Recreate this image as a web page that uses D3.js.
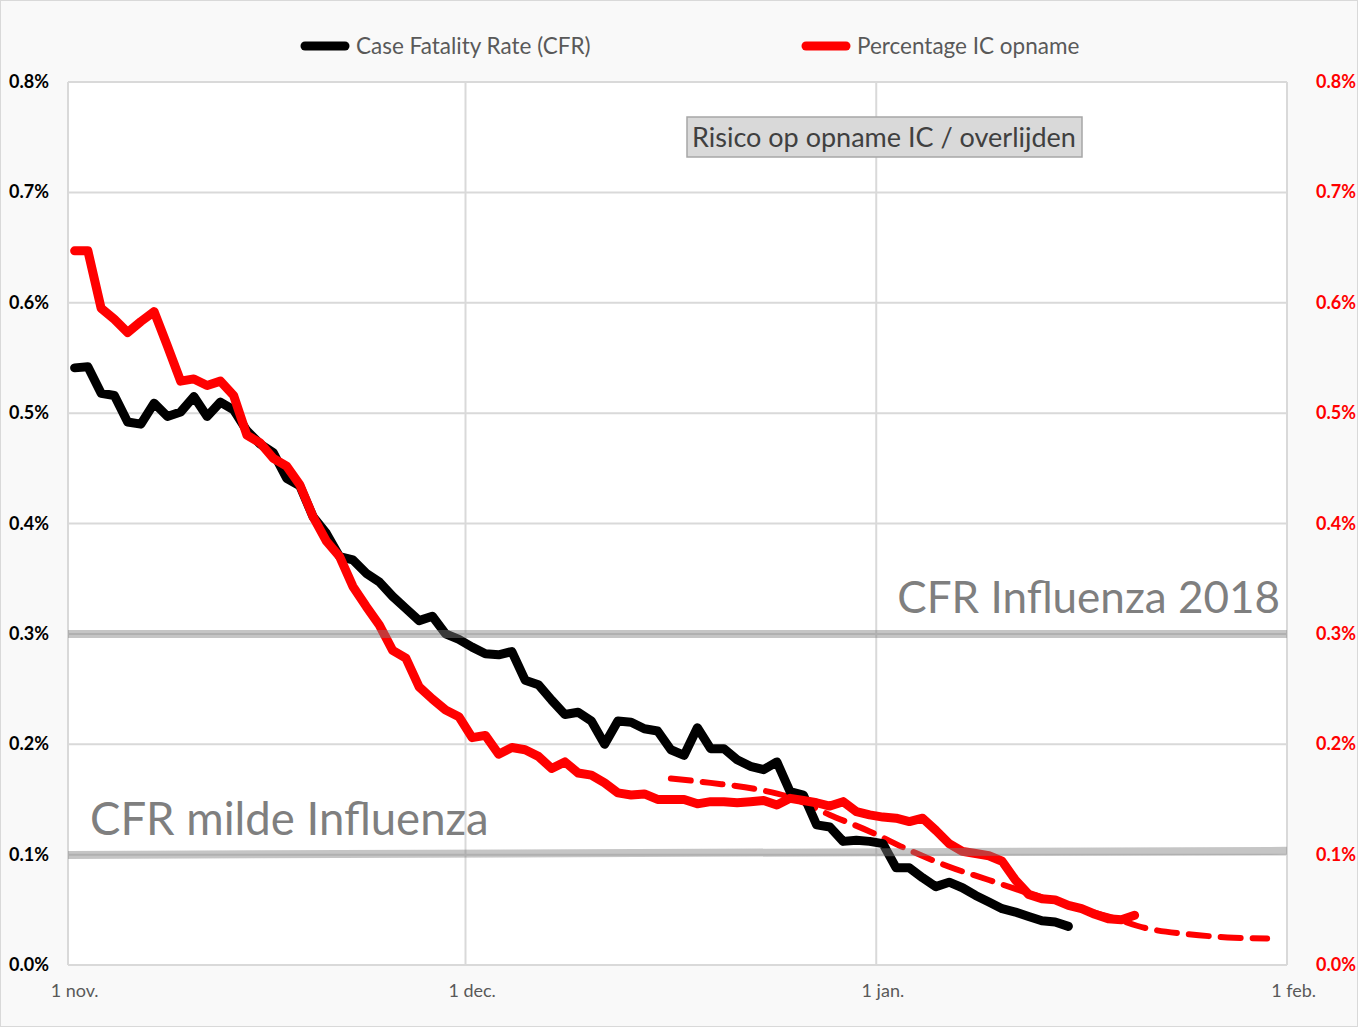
<!DOCTYPE html>
<html>
<head>
<meta charset="utf-8">
<script src="https://cdn.jsdelivr.net/npm/d3@7"></script>
<style>
  body { margin: 0; background: #fff; }
  svg { display: block; font-family: Lato, "Open Sans", sans-serif; }
</style>
</head>
<body>
<div id="chart"></div>
<script>
// daily values (in %), first day = 1 nov.
var startDate = new Date(2021, 10, 1, 12);
var cfr = [0.541, 0.542, 0.518, 0.516, 0.492, 0.490, 0.509, 0.497, 0.501, 0.515,
  0.497, 0.510, 0.503, 0.484, 0.472, 0.464, 0.441, 0.434, 0.406, 0.391,
  0.370, 0.367, 0.355, 0.347, 0.334, 0.323, 0.312, 0.316, 0.300, 0.295,
  0.288, 0.282, 0.281, 0.284, 0.258, 0.254, 0.240, 0.227, 0.229, 0.221,
  0.200, 0.221, 0.220, 0.214, 0.212, 0.195, 0.190, 0.215, 0.196, 0.196,
  0.186, 0.180, 0.177, 0.184, 0.157, 0.154, 0.127, 0.125, 0.112, 0.113,
  0.112, 0.110, 0.088, 0.088, 0.079, 0.071, 0.075, 0.070, 0.063, 0.057,
  0.051, 0.048, 0.044, 0.040, 0.039, 0.035];
var icOpname = [0.647, 0.647, 0.595, 0.585, 0.573, 0.583, 0.592, 0.561, 0.529, 0.531,
  0.525, 0.529, 0.516, 0.480, 0.473, 0.459, 0.452, 0.435, 0.406, 0.384,
  0.370, 0.343, 0.325, 0.308, 0.285, 0.278, 0.252, 0.241, 0.231, 0.225,
  0.206, 0.208, 0.191, 0.197, 0.195, 0.189, 0.178, 0.184, 0.174, 0.172,
  0.165, 0.156, 0.154, 0.155, 0.150, 0.150, 0.150, 0.146, 0.148, 0.148,
  0.147, 0.148, 0.149, 0.145, 0.151, 0.149, 0.147, 0.144, 0.148, 0.139,
  0.136, 0.134, 0.133, 0.130, 0.133, 0.122, 0.110, 0.103, 0.101, 0.099,
  0.094, 0.077, 0.064, 0.060, 0.059, 0.054, 0.051, 0.046, 0.042, 0.041, 0.045];
// trend (dashed) : day index + value
var trendDays = [45, 48, 52, 54, 57, 60, 63, 66, 69, 72, 75, 78, 81, 84, 87, 90];
var trendVals = [0.169, 0.165, 0.158, 0.152, 0.136, 0.121, 0.104, 0.089, 0.077, 0.065,
  0.054, 0.044, 0.033, 0.028, 0.025, 0.024];
// reference lines: label, value at left, value at right
var refLabels = ["CFR Influenza 2018", "CFR milde Influenza"];
var refStart = [0.300, 0.0997];
var refEnd = [0.300, 0.1034];
var yTicks = [0, 0.1, 0.2, 0.3, 0.4, 0.5, 0.6, 0.7, 0.8];
var xTickDates = [new Date(2021, 10, 1), new Date(2021, 11, 1), new Date(2022, 0, 1), new Date(2022, 1, 1)];
var xTickLabels = ["1 nov.", "1 dec.", "1 jan.", "1 feb."];
var seriesNames = ["Case Fatality Rate (CFR)", "Percentage IC opname"];
var seriesColors = ["#000000", "#ff0000"];

var width = 1358, height = 1027;
var margin = {top: 82, right: 71, bottom: 62, left: 68};

var svg = d3.select("#chart").append("svg")
  .attr("width", width)
  .attr("height", height);

svg.append("rect")
  .attr("x", 0.5).attr("y", 0.5)
  .attr("width", width - 1).attr("height", height - 1)
  .attr("fill", "#f9f9f9")
  .attr("stroke", "#d9d9d9");

var x = d3.scaleTime()
  .domain([xTickDates[0], xTickDates[3]])
  .range([margin.left, width - margin.right]);
var y = d3.scaleLinear()
  .domain([0, 0.8])
  .range([height - margin.bottom, margin.top]);

function dayDate(i) { return d3.timeDay.offset(startDate, i); }

svg.append("rect")
  .attr("x", x.range()[0]).attr("y", y(0.8))
  .attr("width", x.range()[1] - x.range()[0])
  .attr("height", y(0) - y(0.8))
  .attr("fill", "#fff");

// grid
svg.append("g").selectAll("line")
  .data(yTicks)
  .enter().append("line")
  .attr("x1", x.range()[0]).attr("x2", x.range()[1])
  .attr("y1", function (d) { return y(d); })
  .attr("y2", function (d) { return y(d); })
  .attr("stroke", "#d9d9d9").attr("stroke-width", 2);

svg.append("g").selectAll("line")
  .data(xTickDates)
  .enter().append("line")
  .attr("x1", function (d) { return x(d); })
  .attr("x2", function (d) { return x(d); })
  .attr("y1", y(0.8)).attr("y2", y(0))
  .attr("stroke", "#d9d9d9").attr("stroke-width", 2);

// axis labels
svg.append("g").selectAll("text")
  .data(yTicks)
  .enter().append("text")
  .attr("x", 49)
  .attr("y", function (d) { return y(d) + 6; })
  .attr("text-anchor", "end")
  .attr("font-size", 18).attr("font-weight", "bold")
  .attr("fill", "#000")
  .text(function (d) { return d.toFixed(1) + "%"; });

svg.append("g").selectAll("text")
  .data(yTicks)
  .enter().append("text")
  .attr("x", 1316)
  .attr("y", function (d) { return y(d) + 6; })
  .attr("font-size", 18).attr("font-weight", "bold")
  .attr("fill", "#ff0000")
  .text(function (d) { return d.toFixed(1) + "%"; });

svg.append("g").selectAll("text")
  .data(xTickDates)
  .enter().append("text")
  .attr("x", function (d) { return x(d3.timeHour.offset(d, 12)); })
  .attr("y", 997)
  .attr("text-anchor", "middle")
  .attr("font-size", 18)
  .attr("fill", "#595959")
  .text(function (d, i) { return xTickLabels[i]; });

// series
var line = d3.line()
  .x(function (d, i) { return x(dayDate(i)); })
  .y(function (d) { return y(d); });

var trendLine = d3.line()
  .x(function (d) { return x(dayDate(d[0])); })
  .y(function (d) { return y(d[1]); })
  .curve(d3.curveMonotoneX);

svg.append("path")
  .datum(d3.zip(trendDays, trendVals))
  .attr("d", trendLine)
  .attr("fill", "none")
  .attr("stroke", "#ff0000")
  .attr("stroke-width", 6)
  .attr("stroke-dasharray", "20 12")
  .attr("stroke-linecap", "round");

svg.append("path")
  .datum(cfr)
  .attr("d", line)
  .attr("fill", "none")
  .attr("stroke", seriesColors[0])
  .attr("stroke-width", 9)
  .attr("stroke-linejoin", "round")
  .attr("stroke-linecap", "round");

svg.append("path")
  .datum(icOpname)
  .attr("d", line)
  .attr("fill", "none")
  .attr("stroke", seriesColors[1])
  .attr("stroke-width", 9)
  .attr("stroke-linejoin", "round")
  .attr("stroke-linecap", "round");

// reference lines
svg.append("g").selectAll("line")
  .data(refStart)
  .enter().append("line")
  .attr("x1", x.range()[0]).attr("x2", x.range()[1])
  .attr("y1", function (d) { return y(d); })
  .attr("y2", function (d, i) { return y(refEnd[i]); })
  .attr("stroke", "#7f7f7f")
  .attr("stroke-opacity", 0.45)
  .attr("stroke-width", 8);

svg.append("text")
  .attr("x", 1280).attr("y", 613)
  .attr("text-anchor", "end")
  .attr("font-size", 44)
  .attr("fill", "#7f7f7f")
  .text(refLabels[0]);

svg.append("text")
  .attr("x", 90).attr("y", 835)
  .attr("font-size", 45.5)
  .attr("fill", "#7f7f7f")
  .text(refLabels[1]);

// title box
svg.append("rect")
  .attr("x", 687).attr("y", 117)
  .attr("width", 395).attr("height", 40)
  .attr("fill", "#d9d9d9")
  .attr("stroke", "#a6a6a6")
  .attr("stroke-width", 1.5);
svg.append("text")
  .attr("x", 884).attr("y", 147)
  .attr("text-anchor", "middle")
  .attr("font-size", 27)
  .attr("fill", "#404040")
  .text("Risico op opname IC / overlijden");

// legend
var legend = svg.append("g").selectAll("g")
  .data(seriesNames)
  .enter().append("g")
  .attr("transform", function (d, i) { return "translate(" + [302, 803][i] + ",46)"; });
legend.append("line")
  .attr("x1", 3).attr("x2", 43)
  .attr("stroke", function (d, i) { return seriesColors[i]; })
  .attr("stroke-width", 9)
  .attr("stroke-linecap", "round");
legend.append("text")
  .attr("x", 54).attr("y", 8)
  .attr("font-size", 22.5)
  .attr("fill", "#595959")
  .text(function (d) { return d; });
</script>
</body>
</html>
